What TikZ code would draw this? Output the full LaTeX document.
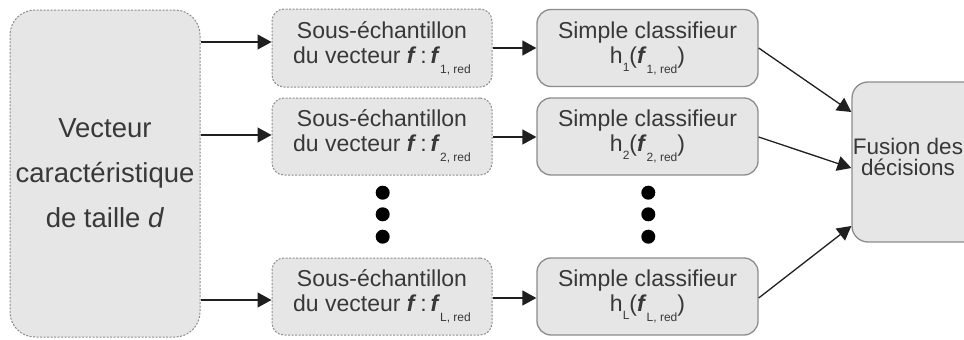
\documentclass[tikz,border=0pt]{standalone}
\usepackage{fontspec}
\setmainfont{Liberation Sans}
\usetikzlibrary{arrows.meta}
\definecolor{boxfill}{HTML}{E6E6E6}
\definecolor{boxline}{HTML}{8C8C8C}
\definecolor{txt}{HTML}{383838}
\newcommand{\fv}{\textbf{\textit{f}}}
\newcommand{\lowsub}[2][10pt]{\raisebox{-#1}{\fontsize{12}{12}\selectfont #2}}
\begin{document}
\begin{tikzpicture}[x=1pt,y=-1pt,
  dbox/.style={draw=boxline, fill=boxfill, line width=1pt, dash pattern=on 2pt off 1.5pt,
    rounded corners=12pt, inner sep=0pt, align=center, text=txt},
  sbox/.style={draw=boxline, fill=boxfill, line width=1.3pt, rounded corners=14pt,
    inner sep=0pt, align=center, text=txt},
  arr/.style={-{Triangle[length=14pt,width=15pt]}, line width=1.3pt, draw=black!88},
  dotnode/.style={circle, fill=black, minimum size=14pt, inner sep=0pt},
  midfont/.style={font=\fontsize{23}{25}\selectfont}]
\useasboundingbox (0,0) rectangle (964,340);
\clip (0,0) rectangle (964,340);

% left box
\node[dbox, rounded corners=25pt, minimum width=190pt, minimum height=327pt,
  font=\fontsize{27.5}{45}\selectfont] (vec) at (105,173.5)
  {Vecteur\\caractéristique\\de taille \textit{d}};

% sub-sample boxes
\node[dbox, midfont, minimum width=220pt, minimum height=78pt] (s1) at (382,48)
  {Sous-échantillon\\du vecteur \fv\,:\,\fv\lowsub{1, red}};
\node[dbox, midfont, minimum width=220pt, minimum height=77pt] (s2) at (382,136.5)
  {Sous-échantillon\\du vecteur \fv\,:\,\fv\lowsub{2, red}};
\node[dbox, midfont, minimum width=220pt, minimum height=77pt] (s3) at (382,296.5)
  {Sous-échantillon\\du vecteur \fv\,:\,\fv\lowsub{L, red}};

% classifier boxes
\node[sbox, midfont, minimum width=221pt, minimum height=77pt] (c1) at (647.5,48)
  {Simple classifieur\\h\lowsub[8pt]{1}(\fv\lowsub{1, red})};
\node[sbox, midfont, minimum width=221pt, minimum height=77pt] (c2) at (647.5,136.5)
  {Simple classifieur\\h\lowsub[8pt]{2}(\fv\lowsub{2, red})};
\node[sbox, midfont, minimum width=221pt, minimum height=77pt] (c3) at (647.5,296.5)
  {Simple classifieur\\h\lowsub[8pt]{L}(\fv\lowsub{L, red})};

% fusion box (extends past the right edge)
\node[sbox, rounded corners=16pt, minimum width=150pt, minimum height=160pt] (fus) at (927,162) {};
\node[text=txt, align=center, font=\fontsize{22.5}{21}\selectfont] (fuslabel) at (908,157)
  {Fusion des\\décisions};

% dots
\node[dotnode] (da1) at (382.7,192.7) {};
\node[dotnode] (da2) at (382.7,214.3) {};
\node[dotnode] (da3) at (382.7,236.7) {};
\node[dotnode] (db1) at (648.3,192.7) {};
\node[dotnode] (db2) at (648.3,214.3) {};
\node[dotnode] (db3) at (648.3,236.7) {};

% helper coordinates for arrow heights
\coordinate (ya) at (0,42);
\coordinate (yb) at (0,135);
\coordinate (yc) at (0,300);
\coordinate (yd) at (0,48);
\coordinate (ye) at (0,137);
\coordinate (yf) at (0,298);
\coordinate (yg) at (0,112);
\coordinate (yh) at (0,168);
\coordinate (yi) at (0,226);

\draw[arr] (vec.east |- ya) -- (s1.west |- ya);
\draw[arr] (vec.east |- yb) -- (s2.west |- yb);
\draw[arr] (vec.east |- yc) -- (s3.west |- yc);

\draw[arr] (s1.east |- yd) -- (c1.west |- yd);
\draw[arr] (s2.east |- ye) -- (c2.west |- ye);
\draw[arr] (s3.east |- yf) -- (c3.west |- yf);

\draw[arr] (c1.east |- yd) -- (fus.west |- yg);
\draw[arr] (c2.east |- ye) -- (fus.west |- yh);
\draw[arr] (c3.east |- yf) -- (fus.west |- yi);
\end{tikzpicture}
\end{document}
